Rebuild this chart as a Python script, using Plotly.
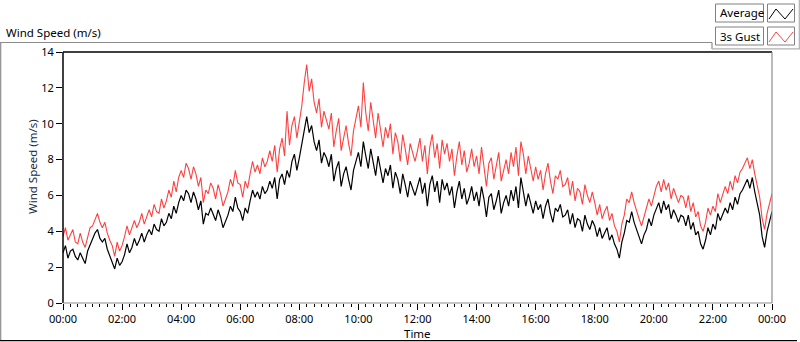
import plotly.graph_objects as go

# ---- data (5-minute samples, hours 00..23 plus final 24:00 point) ----
average = [
    2.8, 3.2, 2.5, 2.9, 3.0, 2.6, 2.4, 2.8, 2.5, 2.2, 2.9, 3.2,
    3.5, 3.9, 4.1, 3.6, 3.4, 3.6, 3.0, 2.6, 2.3, 1.9, 2.5, 2.1,
    2.3, 2.7, 3.3, 2.8, 3.1, 3.6, 3.2, 3.5, 3.9, 3.4, 3.8, 4.1,
    3.8, 4.4, 4.1, 4.0, 4.7, 4.3, 4.5, 5.0, 4.7, 5.4, 5.0, 5.6,
    6.0, 5.7, 6.3, 6.1, 5.6, 6.2, 5.8, 5.2, 5.7, 4.4, 5.0, 4.9,
    5.3, 5.0, 4.6, 5.2, 4.8, 4.2, 4.5, 4.9, 5.4, 5.1, 5.9, 5.3,
    5.1, 4.6, 5.3, 5.0, 5.7, 6.3, 5.9, 6.2, 5.8, 6.5, 6.1, 6.3,
    6.8, 6.4, 7.0, 5.8, 6.9, 7.2, 6.6, 7.4, 7.0, 7.9, 8.3, 7.4,
    8.1, 8.8, 9.7, 10.4, 9.5, 9.9, 9.0, 8.5, 9.1, 7.8, 8.4, 8.1,
    7.6, 8.3, 6.8, 7.5, 7.9, 6.5, 7.2, 7.6, 6.9, 6.3, 7.4, 7.9,
    8.4, 7.6, 9.0, 8.2, 7.5, 8.6, 7.8, 7.1, 8.2, 7.4, 6.7, 7.5,
    7.1, 7.7, 6.4, 7.3, 6.9, 6.1, 7.2, 6.6, 5.9, 6.8, 6.4, 6.0,
    6.5, 7.0, 6.1, 6.7, 5.4, 6.6, 7.1, 6.2, 6.8, 5.6, 6.9, 6.3,
    6.7, 6.0, 6.5, 5.3, 6.2, 6.8, 5.8, 6.4, 5.5, 5.9, 6.5, 5.7,
    6.2, 5.4, 6.5, 5.8, 4.8, 5.9, 6.1, 5.2, 5.7, 6.3, 5.0, 5.6,
    6.0, 5.4, 6.3, 5.7, 6.5, 5.3, 7.0, 6.2, 5.4, 6.1, 5.5, 5.0,
    5.7, 5.2, 5.5, 4.7, 5.4, 5.8, 5.0, 4.5, 5.3, 5.1, 5.5, 4.8,
    4.9, 5.2, 4.4, 5.0, 4.2, 4.7, 4.6, 4.0, 4.9, 4.4, 4.1, 4.6,
    4.3, 3.7, 4.2, 3.6, 3.9, 4.2, 3.5, 3.8, 3.3, 3.0, 2.5, 3.4,
    3.9, 4.6, 4.5, 5.1, 4.5, 4.1, 3.7, 3.3, 3.8, 4.1, 4.7, 4.3,
    4.9, 5.3, 5.6, 5.0, 5.7, 5.2, 5.5, 4.7, 5.2, 4.9, 4.5, 4.9,
    4.8, 4.3, 4.9, 4.1, 4.5, 3.8, 4.0, 3.3, 3.0, 3.5, 4.2, 3.8,
    4.4, 4.1, 5.0, 4.6, 4.9, 5.3, 5.0, 5.6, 5.2, 5.9, 5.5, 6.1,
    6.3, 6.6, 6.9, 6.4, 7.0, 6.2, 5.5, 4.9, 3.7, 3.1, 4.0, 4.5,
    5.1,
]

gust = [
    3.7, 4.2, 3.5, 3.8, 4.1, 3.4, 3.3, 3.9, 3.4, 3.1, 3.7, 4.2,
    4.3, 4.7, 5.0, 4.5, 4.2, 4.5, 3.9, 3.5, 3.2, 2.6, 3.4, 2.9,
    3.2, 3.7, 4.3, 3.8, 4.2, 4.6, 4.2, 4.5, 5.0, 4.4, 4.8, 5.2,
    4.8, 5.5, 5.1, 5.0, 5.8, 5.3, 5.7, 6.3, 5.9, 6.8, 6.2, 7.0,
    7.4, 7.0, 7.8, 7.5, 6.9, 7.6, 7.2, 6.5, 7.0, 5.6, 6.3, 6.1,
    6.7, 6.4, 5.8, 6.6, 6.1, 5.4, 5.8, 6.2, 6.9, 6.5, 7.4, 6.7,
    6.6, 5.9, 6.8, 6.4, 7.2, 7.9, 7.3, 7.7, 7.2, 8.1, 7.6, 7.9,
    8.5, 7.9, 8.8, 7.3, 8.6, 9.2, 8.2, 10.7, 8.8, 9.9, 10.4, 9.2,
    10.1, 11.0, 12.3, 13.3, 11.8, 12.5, 11.2, 10.6, 11.4, 9.8, 10.7, 10.2,
    9.7, 10.6, 8.7, 9.6, 10.3, 8.5, 9.3, 9.9, 8.9, 8.2, 9.6, 10.3,
    11.0, 9.8, 12.3, 10.6, 9.6, 11.2, 10.1, 9.2, 10.6, 9.5, 8.7, 9.8,
    9.2, 10.0, 8.3, 9.5, 9.0, 7.9, 9.4, 8.6, 7.7, 8.9, 8.4, 7.9,
    8.5, 9.2, 7.9, 8.8, 7.2, 8.7, 9.4, 8.1, 8.9, 7.5, 9.1, 8.3,
    8.9, 7.9, 8.6, 7.1, 8.2, 9.0, 7.7, 8.5, 7.3, 7.8, 8.6, 7.6,
    8.2, 7.2, 8.7, 7.7, 6.5, 7.8, 8.1, 6.9, 7.6, 8.4, 6.8, 7.5,
    8.0, 7.2, 8.4, 7.6, 8.7, 7.1, 9.0, 8.3, 7.2, 8.2, 7.4, 6.8,
    7.6, 6.9, 7.4, 6.3, 7.2, 7.8, 6.8, 6.1, 7.1, 6.9, 7.4, 6.5,
    6.6, 7.0, 6.0, 6.8, 5.7, 6.4, 6.2, 5.5, 6.6, 6.0, 5.6, 6.2,
    5.6, 4.9, 5.5, 4.7, 5.1, 5.4, 4.6, 5.0, 4.3, 4.0, 3.4, 4.4,
    4.9, 5.8, 5.6, 6.2, 5.6, 5.1, 4.7, 4.3, 4.8, 5.2, 5.8, 5.4,
    6.0, 6.5, 6.8, 6.2, 6.9, 6.3, 6.7, 5.8, 6.4, 6.0, 5.6, 6.0,
    5.9, 5.3, 6.0, 5.1, 5.6, 4.8, 5.1, 4.3, 4.0, 4.5, 5.3, 4.9,
    5.4, 5.1, 6.1, 5.6, 6.0, 6.5, 6.1, 6.8, 6.3, 7.1, 6.7, 7.3,
    7.5, 7.8, 8.1, 7.5, 8.0, 7.2, 6.5, 5.9, 4.7, 4.1, 5.0, 5.6,
    6.1,
]

sample_minutes = 5
hours = [i * sample_minutes / 60 for i in range(len(average))]

x_tick_vals = [0, 2, 4, 6, 8, 10, 12, 14, 16, 18, 20, 22, 24]
x_tick_text = ["00:00", "02:00", "04:00", "06:00", "08:00", "10:00", "12:00",
               "14:00", "16:00", "18:00", "20:00", "22:00", "00:00"]
y_tick_vals = [0, 2, 4, 6, 8, 10, 12, 14]

series_names = ["Average", "3s Gust"]
series_colors = ["#000000", "#ff4040"]

# ---- layout geometry (pixels) ----
W, H = 800, 342
PL, PR, PT, PB = 63, 772, 52, 303  # plot area edges


def px(xp):
    return (xp - PL) / (PR - PL)


def py(yp):
    return (PB - yp) / (PB - PT)


FONT = "Noto Sans"

fig = go.Figure()
fig.add_trace(go.Scatter(x=hours, y=gust, mode="lines", name=series_names[1],
                         line=dict(color=series_colors[1], width=1.1)))
fig.add_trace(go.Scatter(x=hours, y=average, mode="lines", name=series_names[0],
                         line=dict(color=series_colors[0], width=1.2)))

shapes = []
# plot area border
shapes.append(dict(type="line", xref="paper", yref="paper", x0=0, x1=1, y0=1, y1=1,
                   line=dict(color="#000000", width=1.5)))
shapes.append(dict(type="line", xref="paper", yref="paper", x0=0, x1=0, y0=0, y1=1,
                   line=dict(color="#000000", width=1.5)))
shapes.append(dict(type="line", xref="paper", yref="paper", x0=1, x1=1, y0=0, y1=1,
                   line=dict(color="#8c8c8c", width=1.2)))
shapes.append(dict(type="line", xref="paper", yref="paper", x0=0, x1=1, y0=0, y1=0,
                   line=dict(color="#8c8c8c", width=1.2)))
# outer frame
shapes.append(dict(type="line", xref="paper", yref="paper", x0=px(0), x1=px(712),
                   y0=py(42.5), y1=py(42.5), line=dict(color="#8c8c8c", width=1.2)))
shapes.append(dict(type="line", xref="paper", yref="paper", x0=px(0.7), x1=px(0.7),
                   y0=py(42.5), y1=py(341), line=dict(color="#8c8c8c", width=1.2)))
shapes.append(dict(type="line", xref="paper", yref="paper", x0=px(0), x1=px(797),
                   y0=py(340.7), y1=py(340.7), line=dict(color="#000000", width=1.2)))
# legend panel
shapes.append(dict(type="line", xref="paper", yref="paper", x0=px(712), x1=px(712),
                   y0=py(42.5), y1=py(49), line=dict(color="#8c8c8c", width=1.2)))
shapes.append(dict(type="line", xref="paper", yref="paper", x0=px(712), x1=px(800),
                   y0=py(48.8), y1=py(48.8), line=dict(color="#b0b0b0", width=1.2)))
shapes.append(dict(type="line", xref="paper", yref="paper", x0=px(799.3), x1=px(799.3),
                   y0=py(0), y1=py(49), line=dict(color="#b0b0b0", width=1.2)))

annotations = []
row_tops = [4, 27]
for i, name in enumerate(series_names):
    t = row_tops[i]
    shapes.append(dict(type="rect", xref="paper", yref="paper",
                       x0=px(715.5), x1=px(763.5), y0=py(t), y1=py(t + 18),
                       line=dict(color="#808080", width=1), fillcolor="#ffffff"))
    shapes.append(dict(type="rect", xref="paper", yref="paper",
                       x0=px(767.5), x1=px(794.5), y0=py(t), y1=py(t + 18),
                       line=dict(color="#808080", width=1), fillcolor="#ffffff"))
    pts = [(769, t + 15), (776, t + 5), (785, t + 15), (793, t + 5)]
    path = "M " + " L ".join(f"{px(a)},{py(b)}" for a, b in pts)
    shapes.append(dict(type="path", xref="paper", yref="paper", path=path,
                       line=dict(color=series_colors[i], width=1)))
    annotations.append(dict(text=name, xref="paper", yref="paper", x=px(717.5), y=py(t + 9),
                            xanchor="left", yanchor="middle", showarrow=False,
                            font=dict(family=FONT, size=11.5, color="#000000")))

annotations.append(dict(text="Wind Speed (m/s)", xref="paper", yref="paper",
                        x=px(4), y=py(32), xanchor="left", yanchor="middle", showarrow=False,
                        font=dict(family=FONT, size=11.5, color="#000000")))
annotations.append(dict(text="Wind Speed (m/s)", xref="paper", yref="paper",
                        x=px(32), y=py(167), xanchor="center", yanchor="middle",
                        textangle=-90, showarrow=False,
                        font=dict(family=FONT, size=11.5, color="#1c2a48")))
annotations.append(dict(text="Time", xref="paper", yref="paper",
                        x=px(417), y=py(333), xanchor="center", yanchor="middle",
                        showarrow=False, font=dict(family=FONT, size=11.5, color="#000000")))

fig.update_layout(
    width=W, height=H,
    margin=dict(l=PL, r=W - PR, t=PT, b=H - PB, pad=0),
    paper_bgcolor="#ffffff", plot_bgcolor="#ffffff",
    showlegend=False, hovermode=False,
    font=dict(family=FONT, size=11, color="#000000"),
    shapes=shapes, annotations=annotations,
    xaxis=dict(range=[0, 24], tickmode="array", tickvals=x_tick_vals, ticktext=x_tick_text,
               showgrid=False, zeroline=False, showline=False,
               ticks="outside", ticklen=6, tickwidth=1, tickcolor="#000000",
               tickfont=dict(family=FONT, size=11, color="#000000"),
               minor=dict(tickmode="linear", tick0=0, dtick=0.25, ticks="outside",
                          ticklen=3, tickwidth=1, tickcolor="#000000", showgrid=False)),
    yaxis=dict(range=[0, 14], tickmode="array", tickvals=y_tick_vals,
               showgrid=False, zeroline=False, showline=False,
               ticks="outside", ticklen=6, tickwidth=1, tickcolor="#000000",
               tickfont=dict(family=FONT, size=11, color="#000000")),
)

fig.write_html("out.html", config={"displayModeBar": False, "staticPlot": True},
               post_script="document.body.style.margin='0';document.body.style.padding='0';"
                           "document.body.style.overflow='hidden';")
